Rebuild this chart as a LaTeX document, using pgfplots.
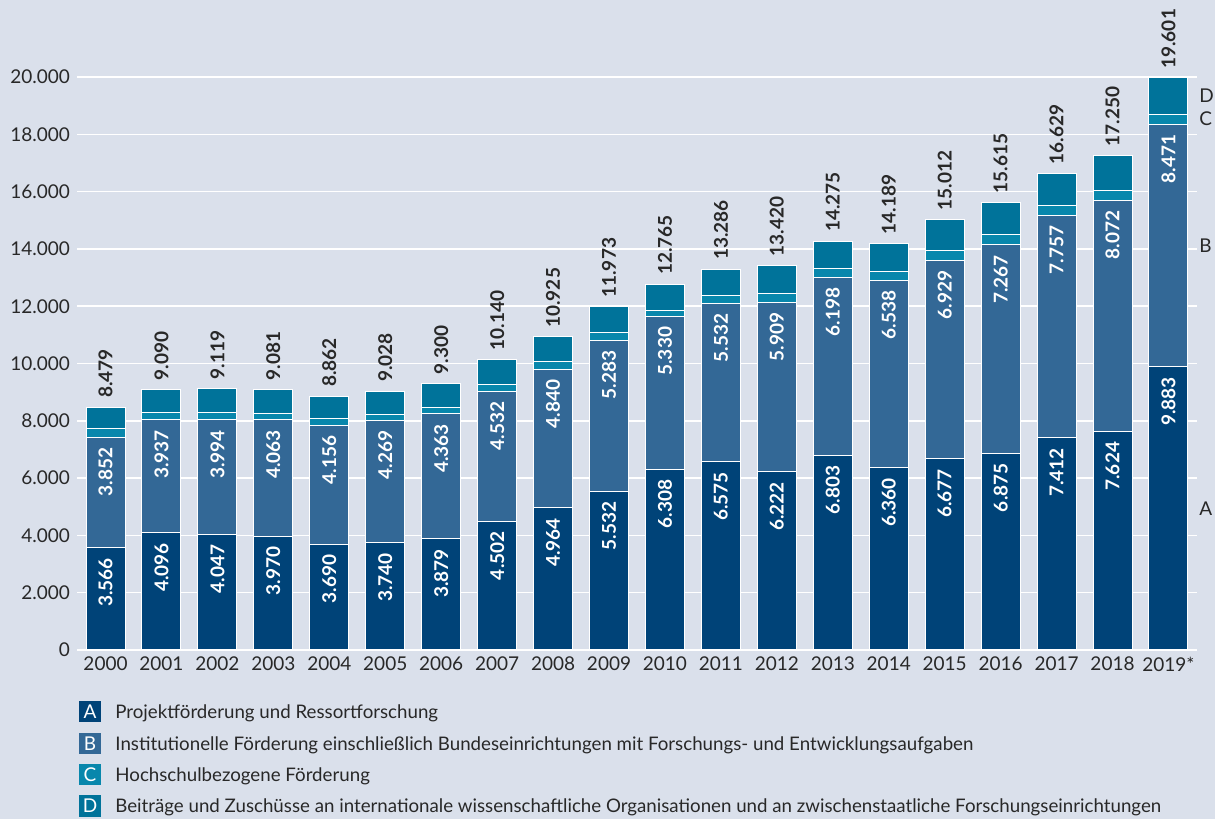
\documentclass[border=0pt]{standalone}
\usepackage{pgfplots}
\pgfplotsset{compat=1.18}
\usepackage{pgfplotstable}
\usepackage{fontspec}
\setmainfont{Lato}
\definecolor{bg}{RGB}{218,224,235}
\definecolor{cA}{RGB}{0,67,120}
\definecolor{cB}{RGB}{51,104,150}
\definecolor{cC}{RGB}{8,135,172}
\definecolor{cD}{RGB}{0,115,154}
\definecolor{txt}{RGB}{40,40,40}
\pgfplotstableread{
X A B C D T
0 3566 3852 315 746 8479
1 4096 3937 245 812 9090
2 4047 3994 245 833 9119
3 3970 4063 220 828 9081
4 3690 4156 230 786 8862
5 3740 4269 210 809 9028
6 3879 4363 230 828 9300
7 4502 4532 250 856 10140
8 4964 4840 250 871 10925
9 5532 5283 280 878 11973
10 6308 5330 210 917 12765
11 6575 5532 255 924 13286
12 6222 5909 315 974 13420
13 6803 6198 300 974 14275
14 6360 6538 300 991 14189
15 6677 6929 325 1081 15012
16 6875 7267 350 1123 15615
17 7412 7757 360 1100 16629
18 7624 8072 350 1204 17250
19 9883 8471 350 1261 19601
}\data
\pgfplotsset{/pgf/number format/1000 sep={.}}
\newcommand{\fs}{\fontsize{9.5pt}{11pt}\selectfont}
\newcommand{\fl}{\fontsize{9.35pt}{11pt}\selectfont}
\pgfplotsset{geom/.style={
  at={(38.5pt,84.5pt)}, anchor=south west,
  scale only axis, width=560pt, height=286.5pt,
  xmin=-0.51, xmax=19.51, ymin=0, ymax=20000, clip=false}}
\begin{document}
\begin{tikzpicture}
\fill[bg] (0,0) rectangle (607.5pt,409.5pt);
\useasboundingbox (0,0) rectangle (607.5pt,409.5pt);
\begin{axis}[geom,
  ybar stacked, bar width=19.5pt,
  axis line style={draw=none}, major tick length=0pt,
  ymajorgrids, grid style={white, line width=0.75pt},
  ytick={0,2000,...,20000}, scaled y ticks=false,
  yticklabel style={/pgf/number format/fixed},
  xtick={0,...,19},
  xticklabels={2000,2001,2002,2003,2004,2005,2006,2007,2008,2009,2010,2011,2012,2013,2014,2015,2016,2017,2018,2019*},
  /pgf/number format/assume math mode=true,
  tick label style={font=\fs, text=txt},
]
\addplot[fill=cA, draw=white, line width=0.5pt] table[x=X,y=A]{\data};
\addplot[fill=cB, draw=white, line width=0.5pt] table[x=X,y=B]{\data};
\addplot[fill=cC, draw=white, line width=0.5pt] table[x=X,y=C]{\data};
\addplot[fill=cD, draw=white, line width=0.5pt] table[x=X,y=D]{\data};
\node[anchor=west, font=\fs, text=txt, inner sep=1pt] at (axis cs:19.51,4941) {A};
\node[anchor=west, font=\fs, text=txt, inner sep=1pt] at (axis cs:19.51,14118) {B};
\node[anchor=west, font=\fs, text=txt, inner sep=1pt] at (axis cs:19.51,18529) {C};
\node[anchor=west, font=\fs, text=txt, inner sep=1pt] at (axis cs:19.51,19335) {D};
\end{axis}
\begin{axis}[geom, hide axis,
  /pgf/number format/assume math mode=true,
  nodes near coords, point meta=explicit]
\addplot[draw=none, mark=none, nodes near coords style={font=\fs\bfseries, text=white, rotate=90, anchor=east, inner xsep=5pt, inner ysep=0pt}]
  table[x=X,y=A,meta=A]{\data};
\addplot[draw=none, mark=none, nodes near coords style={font=\fs\bfseries, text=white, rotate=90, anchor=east, inner xsep=5pt, inner ysep=0pt}]
  table[x=X,y expr=\thisrow{A}+\thisrow{B},meta=B]{\data};
\addplot[draw=none, mark=none, nodes near coords style={font=\fs\bfseries, text=txt, rotate=90, anchor=west, inner xsep=4.5pt, inner ysep=0pt}]
  table[x=X,y expr=\thisrow{A}+\thisrow{B}+\thisrow{C}+\thisrow{D},meta=T]{\data};
\end{axis}
\foreach \y/\c/\l/\t in {53.5/cA/A/Projektförderung und Ressortforschung,
  37.5/cB/B/Institutionelle Förderung einschließlich Bundeseinrichtungen mit Forschungs- und Entwicklungsaufgaben,
  22/cC/C/Hochschulbezogene Förderung,
  6.5/cD/D/Beiträge und Zuschüsse an internationale wissenschaftliche Organisationen und an zwischenstaatliche Forschungseinrichtungen}{
  \fill[\c] (39.5pt,\y pt-5.25pt) rectangle (50.5pt,\y pt+5.25pt);
  \node[text=white, font=\fs, inner sep=0pt] at (45pt,\y pt) {\l};
  \node[anchor=base west, text=txt, font=\fl, inner sep=0pt] at (57.5pt,\y pt-3.3pt) {\t};
}
\end{tikzpicture}
\end{document}
